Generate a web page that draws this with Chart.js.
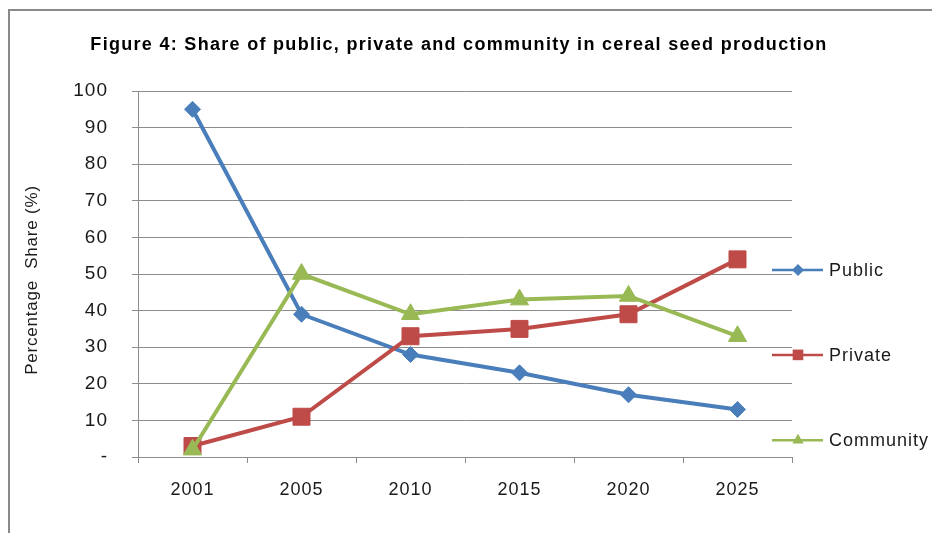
<!DOCTYPE html>
<html>
<head>
<meta charset="utf-8">
<script src="https://cdn.jsdelivr.net/npm/chart.js@4/dist/chart.umd.min.js"></script>
<style>
  html, body { margin: 0; padding: 0; background: #fff; }
  #wrap { width: 932px; height: 533px; position: relative; }
</style>
</head>
<body>
<div id="wrap"><canvas id="chart" width="932" height="533"></canvas></div>
<script>
// data
const years = ['2001', '2005', '2010', '2015', '2020', '2025'];
const publicShare = [95, 39, 28, 23, 17, 13];
const privateShare = [3, 11, 33, 35, 39, 54];
const communityShare = [2, 50, 39, 43, 44, 33];
const yTicks = [0, 10, 20, 30, 40, 50, 60, 70, 80, 90, 100];

const chartTitle = 'Figure 4: Share of public, private and community in cereal seed production';
const yTitle = 'Percentage  Share (%)';

const blue = '#4A7EBB';
const red = '#BE4B48';
const green = '#98B954';
const gridColor = '#8c8c8c';
const textColor = '#1a1a1a';

// frame, titles and the spread-out legend on the right
const decorPlugin = {
  id: 'decor',
  beforeDraw(chart) {
    chart.ctx.letterSpacing = '1px';
  },
  afterDraw(chart) {
    const ctx = chart.ctx;
    const y = chart.scales.y;
    ctx.save();
    // frame (only top and left edges are visible)
    ctx.strokeStyle = '#8a8a8a';
    ctx.lineWidth = 2;
    ctx.beginPath();
    ctx.moveTo(9, 533);
    ctx.lineTo(9, 10);
    ctx.lineTo(932, 10);
    ctx.stroke();

    // title
    ctx.letterSpacing = '1.3px';
    ctx.fillStyle = '#000';
    ctx.font = 'bold 18px "Liberation Sans", Arial, sans-serif';
    ctx.textAlign = 'center';
    ctx.textBaseline = 'middle';
    ctx.fillText(chartTitle, 459, 45);

    // y axis title
    ctx.save();
    ctx.letterSpacing = '0.8px';
    ctx.fillStyle = textColor;
    ctx.font = '17px "Liberation Sans", Arial, sans-serif';
    ctx.translate(32, 280);
    ctx.rotate(-Math.PI / 2);
    ctx.fillText(yTitle, 0, 0);
    ctx.restore();

    // legend
    const items = [
      { label: 'Public', color: blue, style: 'rectRot', radius: 6, value: 51.1 },
      { label: 'Private', color: red, style: 'rect', radius: 7.5, value: 27.9 },
      { label: 'Community', color: green, style: 'triangle', radius: 6.5, value: 4.6 }
    ];
    ctx.letterSpacing = '1px';
    ctx.font = '18px "Liberation Sans", Arial, sans-serif';
    ctx.textAlign = 'left';
    items.forEach(it => {
      const ly = y.getPixelForValue(it.value);
      ctx.strokeStyle = it.color;
      ctx.lineWidth = 2.5;
      ctx.beginPath();
      ctx.moveTo(772, ly);
      ctx.lineTo(823, ly);
      ctx.stroke();
      ctx.fillStyle = it.color;
      Chart.helpers.drawPoint(ctx, { pointStyle: it.style, radius: it.radius, borderWidth: 0 }, 798, ly);
      ctx.fillStyle = textColor;
      ctx.fillText(it.label, 829, ly + 1);
    });
    ctx.restore();
  }
};

function series(label, data, color, style, radius, order) {
  return {
    label: label,
    data: data,
    order: order,
    clip: false,
    borderColor: color,
    backgroundColor: color,
    borderWidth: 4,
    pointStyle: style,
    pointRadius: radius,
    pointHoverRadius: radius,
    pointBorderWidth: 1,
    pointBorderColor: color,
    pointBackgroundColor: color,
    tension: 0,
    fill: false
  };
}

new Chart(document.getElementById('chart'), {
  type: 'line',
  data: {
    labels: years,
    datasets: [
      series('Public', publicShare, blue, 'rectRot', 8, 3),
      series('Private', privateShare, red, 'rect', 12, 2),
      series('Community', communityShare, green, 'triangle', 10.5, 1)
    ]
  },
  plugins: [decorPlugin],
  options: {
    responsive: false,
    animation: false,
    events: [],
    layout: { padding: { left: 0, top: 91, right: 140, bottom: 0 } },
    plugins: {
      legend: { display: false },
      title: { display: false },
      tooltip: { enabled: false }
    },
    scales: {
      x: {
        offset: true,
        grid: {
          offset: true,
          drawOnChartArea: false,
          tickLength: 6,
          color: gridColor
        },
        border: { display: true, color: gridColor, width: 1 },
        ticks: {
          color: textColor,
          padding: 16,
          font: { family: '"Liberation Sans", Arial, sans-serif', size: 18 }
        },
        afterFit(scale) { scale.height = 76; }
      },
      y: {
        min: 0,
        max: 100,
        afterBuildTicks(scale) {
          scale.ticks = yTicks.map(v => ({ value: v }));
        },
        grid: {
          color: gridColor,
          tickLength: 6
        },
        border: { display: true, color: gridColor, width: 1 },
        ticks: {
          color: textColor,
          padding: 24,
          font: { family: '"Liberation Sans", Arial, sans-serif', size: 19 },
          callback: v => (v === 0 ? '-' : String(v))
        },
        afterFit(scale) { scale.width = 138; }
      }
    }
  }
});
</script>
</body>
</html>
